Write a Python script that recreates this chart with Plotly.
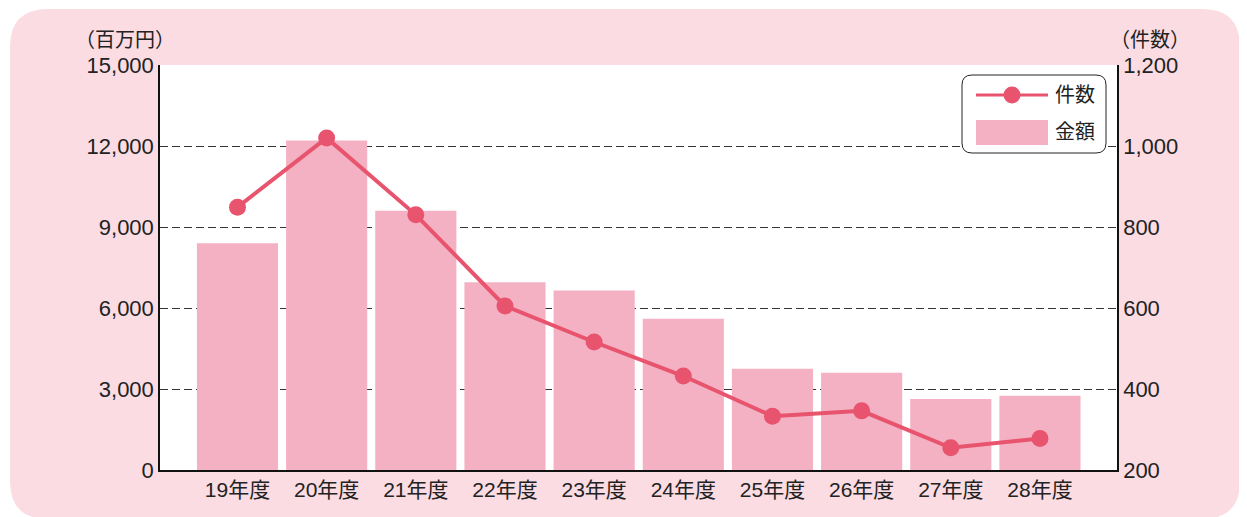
import plotly.graph_objects as go

categories = ["19年度", "20年度", "21年度", "22年度", "23年度", "24年度", "25年度", "26年度", "27年度", "28年度"]
amount = [8400, 12200, 9600, 6950, 6650, 5600, 3750, 3600, 2630, 2750]  # 金額 (百万円)
counts = [849, 1020, 830, 605, 516, 432, 333, 346, 255, 278]  # 件数
left_ticks = [0, 3000, 6000, 9000, 12000, 15000]
left_ticktext = ["0", "3,000", "6,000", "9,000", "12,000", "15,000"]
right_ticks = [200, 400, 600, 800, 1000, 1200]
right_ticktext = ["200", "400", "600", "800", "1,000", "1,200"]

OFF = 8  # page body margin
W, H = 1247 - OFF, 517 - OFF
# plot area in page pixels
PL, PR, PT, PB = 160, 1117, 65, 470
ML, MR, MT, MB = PL - OFF, W - (PR - OFF), PT - OFF, H - (PB - OFF)
PW = PR - PL
PH = PB - PT

BAR = "#F4B1C3"
LINE = "#E8546E"
BG = "#FADCE2"
FONT = "Liberation Sans, Arial, Noto Sans CJK JP, sans-serif"


def px(x):
    return (x - PL) / PW


def py(y):
    return (PB - y) / PH


def rrect(x0, y0, x1, y1, r):
    X0, X1 = px(x0), px(x1)
    Y0, Y1 = py(y0), py(y1)
    rx, ry = r / PW, r / PH
    return (f"M {X0+rx},{Y0} L {X1-rx},{Y0} Q {X1},{Y0} {X1},{Y0-ry} "
            f"L {X1},{Y1+ry} Q {X1},{Y1} {X1-rx},{Y1} "
            f"L {X0+rx},{Y1} Q {X0},{Y1} {X0},{Y1+ry} "
            f"L {X0},{Y0-ry} Q {X0},{Y0} {X0+rx},{Y0} Z")


fig = go.Figure()
fig.add_trace(go.Bar(x=categories, y=amount, name="金額", marker=dict(color=BAR, line=dict(width=0)),
                     width=0.91, yaxis="y"))
fig.add_trace(go.Scatter(x=categories, y=counts, name="件数", mode="lines+markers",
                         line=dict(color=LINE, width=4), marker=dict(color=LINE, size=17),
                         yaxis="y2"))

shapes = [
    dict(type="path", xref="paper", yref="paper", path=rrect(10, 9, 1240, 519, 38),
         fillcolor=BG, line=dict(width=0), layer="below"),
    dict(type="rect", xref="paper", yref="paper", x0=0, x1=1, y0=0, y1=1,
         fillcolor="white", line=dict(width=0), layer="below"),
    dict(type="path", xref="paper", yref="paper", path=rrect(962, 75, 1106, 153, 10),
         fillcolor="white", line=dict(color="#222", width=1), layer="above"),
    dict(type="line", xref="paper", yref="paper", x0=px(976), x1=px(1048), y0=py(95), y1=py(95),
         line=dict(color=LINE, width=3), layer="above"),
    dict(type="circle", xref="paper", yref="paper", x0=px(1003.5), x1=px(1020.5), y0=py(86.5), y1=py(103.5),
         fillcolor=LINE, line=dict(width=0), layer="above"),
    dict(type="rect", xref="paper", yref="paper", x0=px(976), x1=px(1048), y0=py(120), y1=py(145),
         fillcolor=BAR, line=dict(width=0), layer="above"),
]

annotations = [
    dict(text="（百万円）", xref="paper", yref="paper", x=px(125), y=py(40), showarrow=False,
         font=dict(size=20, color="#222", family=FONT), xanchor="center", yanchor="middle"),
    dict(text="（件数）", xref="paper", yref="paper", x=px(1150), y=py(40), showarrow=False,
         font=dict(size=20, color="#222", family=FONT), xanchor="center", yanchor="middle"),
    dict(text="件数", xref="paper", yref="paper", x=px(1053), y=py(95), showarrow=False,
         font=dict(size=20, color="#222", family=FONT), xanchor="left", yanchor="middle"),
    dict(text="金額", xref="paper", yref="paper", x=px(1053), y=py(132), showarrow=False,
         font=dict(size=20, color="#222", family=FONT), xanchor="left", yanchor="middle"),
]

fig.update_layout(
    width=W, height=H,
    margin=dict(l=ML, r=MR, t=MT, b=MB),
    paper_bgcolor="white", plot_bgcolor="white",
    showlegend=False,
    font=dict(family=FONT, size=20, color="#222"),
    bargap=0.09,
    xaxis=dict(type="category", range=[-0.869, 9.864], showgrid=False, showline=True,
               linecolor="#111", linewidth=1.5, ticks="", tickfont=dict(size=21)),
    yaxis=dict(range=[0, 15000], tickvals=left_ticks, ticktext=left_ticktext, showgrid=True,
               gridcolor="#333", griddash="8px,4px", gridwidth=1.2, showline=True, linecolor="#111",
               linewidth=1.5, ticks="", zeroline=False, tickfont=dict(size=22)),
    yaxis2=dict(range=[200, 1200], tickvals=right_ticks, ticktext=right_ticktext, overlaying="y",
                side="right", showgrid=False, showline=True, linecolor="#111", linewidth=1.5,
                ticks="", zeroline=False, tickfont=dict(size=22)),
    shapes=shapes,
    annotations=annotations,
)

fig.write_html("out.html")
